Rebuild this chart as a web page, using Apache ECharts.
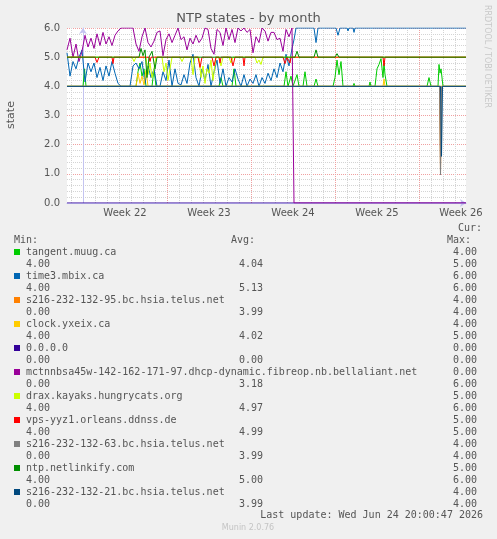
<!DOCTYPE html>
<html>
<head>
<meta charset="utf-8">
<style>
  html, body { margin: 0; padding: 0; background: #f0f0f0; }
  #chart { width: 497px; height: 539px; }
</style>
<script src="https://cdn.jsdelivr.net/npm/echarts@6/dist/echarts.min.js"></script>
</head>
<body>
<div id="chart"></div>
<script>
// x is hours since the start of Week 22 (Monday 00:00)
const X_MIN = -32, X_MAX = 766;
const dayLines = [-24, 24, 48, 72, 96, 120, 144, 192, 216, 240, 264, 288, 312,
  360, 384, 408, 432, 456, 480, 528, 552, 576, 600, 624, 648, 696, 720, 744];
const weekLines = [0, 168, 336, 504, 672];
const weekCenters = [84, 252, 420, 588, 756];
const weekLabels = ['Week 22', 'Week 23', 'Week 24', 'Week 25', 'Week 26'];

// noisy part of the month, one value every 6 hours from hour -32
const DENSE_START = -32, DENSE_STEP = 6;
const time3Early = [5.15, 4.35, 4.85, 4.6, 5.0, 5.25, 4.15, 4.8, 4.5, 4.8,
  4.3, 4.65, 4.2, 4.7, 4.35, 4.85, 4.45, 4.1, 4.0, 4.0,
  4.0, 4.0, 4.7, 4.8, 4.6, 4.85, 4.1, 4.7, 4.3, 4.6,
  4.0, 4.0, 4.5, 4.2, 4.9, 4.0, 4.6, 4.1, 4.05, 4.4,
  4.1, 4.8, 5.1, 4.3, 4.0, 4.6, 4.2, 4.75, 4.0, 4.5,
  4.9, 4.1, 4.6, 4.0, 4.3, 4.15, 4.6, 4.25, 4.0, 4.4,
  4.0, 4.25, 4.1, 4.4, 4.0, 4.3, 4.1, 4.45, 4.2, 4.6,
  4.3, 4.8, 4.5, 5.1, 4.7, 5.3];
const time3Late = [[422, 5.6], [426, 6], [462, 6], [466, 5.5], [470, 6], [506, 6], [510, 5.75],
  [514, 6], [528, 6], [530, 5.9], [532, 6], [540, 6], [542, 5.85], [544, 6], [766, 6]];

const mctEarly = [5.25, 5.65, 5.0, 5.45, 4.85, 5.2, 5.75, 5.35, 5.65, 5.3,
  5.8, 5.4, 5.85, 5.45, 5.7, 5.4, 5.75, 5.9, 6.0, 6.0,
  6.0, 6.0, 6.0, 5.45, 5.2, 5.7, 6.0, 5.5, 5.35, 5.55,
  5.85, 5.9, 5.05, 5.6, 5.8, 5.5, 5.75, 6.0, 5.6, 5.7,
  5.25, 5.65, 5.45, 5.75, 5.5, 5.65, 6.0, 5.95, 5.3, 5.1,
  5.95, 5.85, 5.4, 6.0, 5.6, 5.95, 5.5, 6.0, 5.9, 6.0,
  5.85, 5.95, 5.15, 5.7, 5.5, 6.0, 5.9, 5.55, 5.85, 5.85,
  5.6, 5.65, 5.2, 5.95, 5.7, 6.0];
const mctLate = [[422, 0], [766, 0]];

const tangentPts = [[-32, 4], [0, 4], [3, 4.6], [6, 4], [106, 4], [110, 4.5], [114, 4.8], [118, 4.35],
  [122, 4.6], [126, 4], [138, 4], [142, 4.6], [146, 4], [272, 4], [276, 4.3], [280, 4], [298, 4],
  [302, 4.6], [306, 4], [402, 4], [406, 4.5], [410, 4], [412, 4], [416, 4.35], [420, 4], [424, 4],
  [428, 4.4], [432, 4], [440, 4], [444, 4.5], [448, 4], [462, 4], [466, 4.25], [470, 4], [500, 4],
  [504, 4.3], [508, 4.9], [512, 4.4], [516, 4.85], [520, 4], [540, 4], [542, 4.1], [544, 4],
  [572, 4], [574, 4.15], [576, 4], [584, 4], [586, 4.3], [588, 4.6], [592, 4.75], [596, 4.95],
  [598, 4.9], [600, 4.3], [602, 4.8], [604, 4.4], [608, 4], [688, 4], [692, 4.3], [696, 4],
  [710, 4], [712, 4.75], [714, 4.45], [716, 4.6], [720, 4], [766, 4]];
const telus95Pts = [[-32, 4], [713, 4], [715, 1.0], [717, 4], [766, 4]];
const clockPts = [[-32, 4], [106, 4], [110, 4.45], [114, 4.1], [118, 4.35], [122, 4.05], [126, 4.55],
  [130, 4], [600, 4], [602, 4.25], [604, 4], [766, 4]];
const zeroPts = [[-32, 0], [766, 0]];
const draxPts = [[-32, 5], [98, 5], [102, 4.85], [106, 5], [126, 5], [130, 4.4], [134, 4.8], [138, 4.3],
  [142, 4.6], [146, 5], [158, 5], [162, 4.5], [166, 4.8], [170, 4.2], [174, 4.6], [178, 5], [194, 5],
  [198, 4.85], [202, 5], [216, 5], [220, 4.4], [224, 5], [232, 5], [236, 4.3], [240, 4.7], [244, 4.1],
  [248, 4.6], [252, 4.45], [256, 4.9], [260, 4.2], [266, 5], [272, 5], [276, 4.7], [280, 5], [292, 5],
  [296, 4.8], [300, 5], [344, 5], [348, 4.8], [352, 4.9], [356, 4.75], [360, 5], [766, 5]];
const vpsPts = [[-32, 5], [24, 5], [28, 4.82], [32, 5], [58, 5], [60, 4.78], [62, 5], [132, 5], [134, 4.85],
  [136, 5], [230, 5], [234, 4.65], [238, 5], [258, 5], [262, 4.7], [266, 5], [272, 5], [274, 4.8],
  [276, 5], [296, 5], [300, 4.7], [304, 5], [320, 5], [322, 4.7], [324, 5], [400, 5], [404, 4.78],
  [406, 4.75], [408, 5], [412, 5], [414, 4.8], [416, 5], [600, 5], [602, 4.7], [604, 5], [766, 5]];
const telus63Pts = [[-32, 4], [713, 4], [715, 0.96], [717, 4], [766, 4]];
const netlinkPts = [[-32, 5], [112, 5], [116, 5.3], [120, 5.05], [124, 5.25], [128, 4.3], [132, 5],
  [138, 5.2], [144, 4.6], [148, 5], [424, 5], [428, 5.2], [432, 5], [462, 5], [466, 5.25], [470, 5],
  [504, 5], [508, 5.12], [512, 5], [766, 5]];
const telus21Pts = [[-32, 4], [715, 4], [717, 1.6], [719, 4], [766, 4]];

const names = ['tangent.muug.ca', 'time3.mbix.ca', 's216-232-132-95.bc.hsia.telus.net', 'clock.yxeix.ca',
  '0.0.0.0', 'mctnnbsa45w-142-162-171-97.dhcp-dynamic.fibreop.nb.bellaliant.net',
  'drax.kayaks.hungrycats.org', 'vps-yyz1.orleans.ddnss.de', 's216-232-132-63.bc.hsia.telus.net',
  'ntp.netlinkify.com', 's216-232-132-21.bc.hsia.telus.net'];
const curVals = ['4.00', '6.00', '4.00', '4.00', '0.00', '0.00', '5.00', '5.00', '4.00', '5.00', '4.00'];
const minVals = ['4.00', '4.00', '0.00', '4.00', '0.00', '0.00', '4.00', '4.00', '0.00', '4.00', '0.00'];
const avgVals = ['4.04', '5.13', '3.99', '4.02', '0.00', '3.18', '4.97', '4.99', '3.99', '5.00', '3.99'];
const maxVals = ['5.00', '6.00', '4.00', '5.00', '0.00', '6.00', '6.00', '5.00', '4.00', '6.00', '4.00'];
const colors = ['#00CC00', '#0066B3', '#FF8000', '#FFCC00', '#330099', '#990099',
  '#CCFF00', '#FF0000', '#808080', '#008F00', '#00487D'];

function dense(values) {
  return values.map((v, i) => [DENSE_START + i * DENSE_STEP, v]);
}
const seriesData = [
  tangentPts,
  dense(time3Early).concat(time3Late),
  telus95Pts,
  clockPts,
  zeroPts,
  dense(mctEarly).concat(mctLate),
  draxPts,
  vpsPts,
  telus63Pts,
  netlinkPts,
  telus21Pts
];

const mono = 'DejaVu Sans Mono';
const textCol = '#555';
function txt(x, y, s, align, extra) {
  return Object.assign({
    type: 'text', x: x, y: y,
    style: { text: s, fill: textCol, font: '10px "' + mono + '"', align: align || 'left', verticalAlign: 'middle' }
  }, extra || {});
}

const graphics = [
  txt(482, 228, 'Cur:', 'right'),
  txt(14, 240, 'Min:'),
  txt(231, 240, 'Avg:'),
  txt(447, 240, 'Max:'),
  txt(483, 515, 'Last update: Wed Jun 24 20:00:47 2026', 'right'),
  {
    type: 'text', x: 248, y: 528,
    style: { text: 'Munin 2.0.76', fill: '#c4c4c4', font: '8px "DejaVu Sans"', align: 'center', verticalAlign: 'middle' }
  },
  {
    type: 'text', x: 487, y: 5, rotation: -Math.PI / 2,
    style: { text: 'RRDTOOL / TOBI OETIKER', fill: '#c8c8c8', font: '8px "DejaVu Sans"', align: 'left', verticalAlign: 'middle' }
  },
  {
    type: 'text', x: 11, y: 115, rotation: Math.PI / 2,
    style: { text: 'state', fill: textCol, font: '11px "DejaVu Sans"', align: 'center', verticalAlign: 'middle' }
  }
];
names.forEach((n, k) => {
  const y1 = 252 + 24 * k, y2 = y1 + 12;
  graphics.push({ type: 'rect', shape: { x: 14, y: y1 - 3, width: 6, height: 6 }, style: { fill: colors[k] } });
  graphics.push(txt(26, y1, n));
  graphics.push(txt(477, y1, curVals[k], 'right'));
  graphics.push(txt(26, y2, minVals[k]));
  graphics.push(txt(263, y2, avgVals[k], 'right'));
  graphics.push(txt(477, y2, maxVals[k], 'right'));
});

const chart = echarts.init(document.getElementById('chart'));
chart.setOption({
  backgroundColor: '#f0f0f0',
  animation: false,
  title: {
    text: 'NTP states - by month',
    left: 'center', top: 12, padding: 0,
    textStyle: { fontSize: 13, fontWeight: 'normal', color: '#555', fontFamily: 'DejaVu Sans' }
  },
  grid: { left: 67, top: 28, width: 399, height: 175, show: true, backgroundColor: '#fff', borderWidth: 0 },
  xAxis: [
    {
      type: 'value', min: X_MIN, max: X_MAX,
      axisLine: { show: true, symbol: ['none', 'arrow'], symbolSize: [6, 6], lineStyle: { color: '#c4c4f0' } },
      axisTick: { show: false, customValues: dayLines },
      splitLine: { show: true, lineStyle: { color: '#d4d4d4', type: 'dotted' } },
      axisLabel: {
        customValues: weekCenters,
        formatter: v => weekLabels[weekCenters.indexOf(v)],
        color: textCol, fontSize: 10, fontFamily: 'DejaVu Sans', margin: 5
      }
    },
    {
      type: 'value', min: X_MIN, max: X_MAX,
      axisLine: { show: false },
      axisTick: { show: false, customValues: weekLines },
      axisLabel: { show: false },
      splitLine: { show: true, lineStyle: { color: '#f0a0a0', type: 'dotted' } }
    }
  ],
  yAxis: {
    type: 'value', min: 0, max: 6, interval: 1,
    axisLabel: { formatter: v => v.toFixed(1), color: textCol, fontSize: 10, fontFamily: 'DejaVu Sans', margin: 7 },
    axisLine: { show: true, symbol: ['none', 'arrow'], symbolSize: [6, 6], lineStyle: { color: '#c4c4f0' } },
    axisTick: { show: false },
    splitLine: { lineStyle: { color: '#f0a0a0', type: 'dotted' } },
    minorTick: { show: false, splitNumber: 5 },
    minorSplitLine: { show: true, lineStyle: { color: '#d4d4d4', type: 'dotted' } }
  },
  series: names.map((n, k) => ({
    name: n,
    type: 'line',
    xAxisIndex: 0,
    data: seriesData[k],
    showSymbol: false,
    silent: true,
    color: colors[k],
    lineStyle: { width: 1, color: colors[k] }
  })),
  graphic: graphics
});
</script>
</body>
</html>
